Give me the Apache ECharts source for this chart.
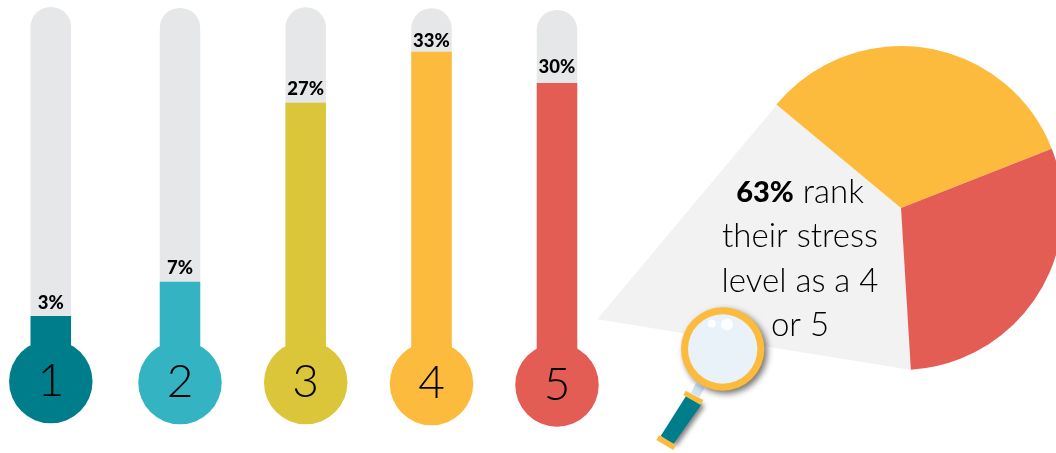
<!DOCTYPE html>
<html>
<head>
<meta charset="utf-8">
<style>
  html, body { margin: 0; padding: 0; background: #fff; }
  #chart { width: 1056px; height: 453px; }
</style>
<script src="https://cdn.jsdelivr.net/npm/echarts@6/dist/echarts.min.js"></script>
</head>
<body>
<div id="chart"></div>
<script>
// data
var levels = ['1', '2', '3', '4', '5'];
var shares = [3, 7, 27, 33, 30];
var pieNames = ['4', '5', '1-3'];
var pieValues = [33, 30, 37];

// look
var levelColors = ['#007d8a', '#34b3c3', '#dbc63a', '#fdbb3e', '#e35d54'];
var trackColor = '#e6e7e8';
var fontName = 'Lato';

// each thermometer sits a little differently in the picture
var stemX = [50.8, 180, 305.7, 431.5, 557];
var stemTop = [7, 8, 7.3, 8.3, 10];
var zeroY = [345.1, 349.6, 364.6, 371.8, 374];
var bulbY = [381.6, 382.6, 382.6, 383.6, 385];
var labelGap = [3, 4, 4, 1, 6];
var stemWidth = 40.5;
var pxPerPct = 9.7;

var grids = [], xAxes = [], yAxes = [], series = [];

for (let i = 0; i < levels.length; i++) {
  var axisMin = -(bulbY[i] - zeroY[i]) / pxPerPct;
  grids.push({
    left: stemX[i] - stemWidth / 2,
    width: stemWidth,
    top: stemTop[i],
    height: bulbY[i] - stemTop[i]
  });
  xAxes.push({ gridIndex: i, type: 'category', data: [levels[i]], show: false });
  yAxes.push({
    gridIndex: i,
    type: 'value',
    show: false,
    min: axisMin,
    max: (zeroY[i] - stemTop[i]) / pxPerPct
  });
  series.push({
    type: 'bar',
    xAxisIndex: i,
    yAxisIndex: i,
    barWidth: '100%',
    data: [shares[i]],
    silent: true,
    itemStyle: { color: levelColors[i] },
    showBackground: true,
    backgroundStyle: { color: trackColor, borderRadius: [20, 20, 0, 0] },
    label: {
      show: true,
      position: 'top',
      distance: labelGap[i],
      formatter: '{c}%',
      color: '#000',
      fontFamily: fontName,
      fontWeight: 900,
      fontSize: 18.5
    }
  });
  // bulb with the level number
  series.push({
    type: 'scatter',
    xAxisIndex: i,
    yAxisIndex: i,
    clip: false,
    silent: true,
    symbol: 'circle',
    symbolSize: 83.5,
    data: [[levels[i], axisMin]],
    itemStyle: { color: levelColors[i], opacity: 1 },
    label: {
      show: true,
      position: 'inside',
      formatter: levels[i],
      color: '#000',
      fontFamily: fontName,
      fontWeight: 300,
      fontSize: 46
    }
  });
}

series.push({
  type: 'pie',
  center: [901, 208],
  radius: 162,
  startAngle: 140.3,
  silent: true,
  label: { show: false },
  labelLine: { show: false },
  data: [
    { name: pieNames[0], value: pieValues[0], itemStyle: { color: levelColors[3] } },
    { name: pieNames[1], value: pieValues[1], itemStyle: { color: levelColors[4] } },
    { name: pieNames[2], value: pieValues[2], itemStyle: { color: 'rgba(0,0,0,0)' } }
  ]
});

var graphic = [
  // wedge pulled out of the pie
  {
    type: 'polygon',
    shape: { points: [[776.7, 105], [901, 208], [911.7, 370], [597.3, 319.3]] },
    style: { fill: '#f2f2f2' }
  },
  {
    type: 'text',
    x: 800,
    y: 170,
    style: {
      text: '{b|63%} rank\ntheir stress\nlevel as a 4\nor 5',
      align: 'center',
      verticalAlign: 'top',
      fill: '#000',
      fontFamily: fontName,
      fontWeight: 300,
      fontSize: 33,
      lineHeight: 44.5,
      rich: {
        b: { fontFamily: fontName, fontWeight: 900, fontSize: 29, lineHeight: 44.5 }
      }
    }
  },
  // magnifying glass
  {
    type: 'polygon',
    shape: { points: [[696, 383], [704.3, 388.3], [699.3, 397.3], [691, 392.7]] },
    style: { fill: '#cfe3f1' }
  },
  {
    type: 'polygon',
    shape: { points: [[686.7, 395], [701.7, 404], [673.3, 444.3], [660.7, 436]] },
    style: { fill: '#007d8a', shadowBlur: 5, shadowColor: 'rgba(0,0,0,0.5)', shadowOffsetX: 3, shadowOffsetY: 2 }
  },
  {
    type: 'polygon',
    shape: { points: [[685.7, 390.7], [703.3, 400], [700.7, 405], [683.3, 395]] },
    style: { fill: '#fdbb3e' }
  },
  {
    type: 'polygon',
    shape: { points: [[659, 435.3], [676, 445], [673.3, 450], [656.3, 440]] },
    style: { fill: '#fdbb3e' }
  },
  {
    type: 'circle',
    shape: { cx: 722.7, cy: 349, r: 41.7 },
    style: {
      fill: '#fdbb3e',
      shadowBlur: 6,
      shadowColor: 'rgba(0,0,0,0.55)',
      shadowOffsetX: 3,
      shadowOffsetY: 3
    }
  },
  { type: 'circle', shape: { cx: 722.7, cy: 349, r: 34.7 }, style: { fill: '#eaf2f9' } },
  { type: 'circle', shape: { cx: 711.7, cy: 323.5, r: 4 }, style: { fill: '#fbfdfe' } },
  { type: 'circle', shape: { cx: 727, cy: 324.5, r: 6 }, style: { fill: '#fbfdfe' } }
];

var chart = echarts.init(document.getElementById('chart'));
chart.setOption({
  animation: false,
  backgroundColor: '#fff',
  tooltip: { show: false },
  grid: grids,
  xAxis: xAxes,
  yAxis: yAxes,
  series: series,
  graphic: graphic
});
</script>
</body>
</html>
